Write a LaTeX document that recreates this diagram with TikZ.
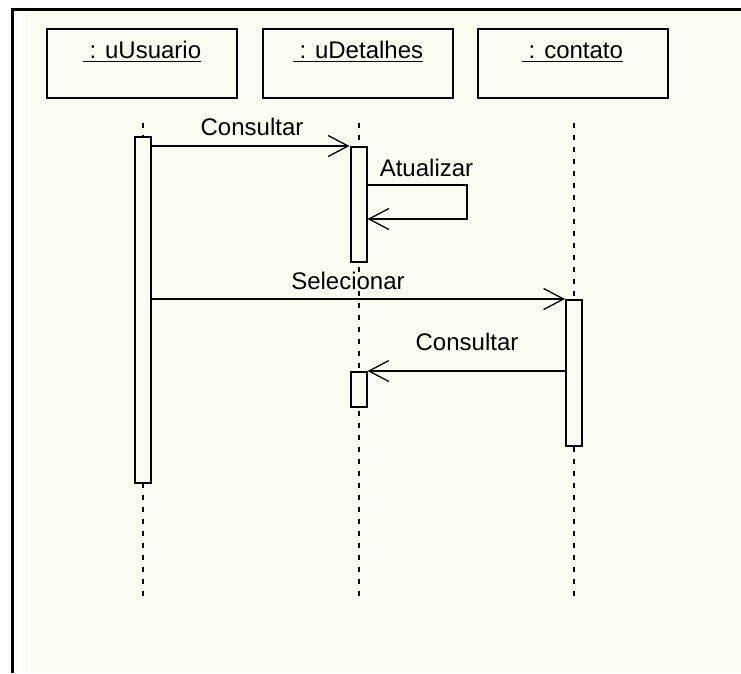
\documentclass[tikz,border=0pt]{standalone}
\usepackage{fontspec}
\setmainfont{Liberation Sans}
\usetikzlibrary{arrows.meta}
\definecolor{paper}{RGB}{252,252,242}
\begin{document}
\begin{tikzpicture}[x=1pt,y=-1pt,
  font=\fontsize{24}{28}\selectfont,
  objbox/.style={draw=black, line width=2pt, fill=paper, minimum width=190pt, minimum height=69pt, inner sep=0pt},
  objname/.style={inner sep=0pt, anchor=base},
  actbar/.style={draw=black, line width=2pt, fill=paper, minimum width=16pt, inner sep=0pt},
  lifeline/.style={line width=2pt, dash pattern=on 5pt off 7pt},
  msg/.style={line width=2pt, -{Straight Barb[length=20pt,width=21pt,line width=1.3pt]}},
  msglabel/.style={inner sep=0pt, anchor=base}
]
\useasboundingbox (0,0) rectangle (741,673);

% canvas and frame
\fill[white] (0,0) rectangle (741,673);
\fill[paper] (26,11) rectangle (741,673);
\fill[black] (11,8) rectangle (741,11);
\fill[black] (11,8) rectangle (13.5,673);

% object boxes
\node[objbox] (u) at (142,63.5) {};
\node[objbox] (d) at (358,63.5) {};
\node[objbox] (c) at (572.5,63.5) {};

\node[objname] (un) at (142,58) {~: uUsuario};
\node[objname] (dn) at (358,58) {~: uDetalhes};
\node[objname] (cn) at (572.5,58) {~: contato};
\foreach \n in {un,dn,cn}
  \draw[line width=1.8pt] ([yshift=-3.5pt]\n.base west) -- ([yshift=-3.5pt]\n.base east);

% message labels
\node[msglabel] (m1) at (252,135) {Consultar};
\node[msglabel] (m2) at (426.5,176) {Atualizar};
\node[msglabel] (m3) at (348,289) {Selecionar};
\node[msglabel] (m4) at (467,350) {Consultar};

% lifelines
\coordinate (ut) at (143,123);   \coordinate (ue) at (143,597);
\coordinate (dt) at (358.5,123); \coordinate (de) at (358.5,597);
\coordinate (ct) at (574,123);   \coordinate (ce) at (574,597);
\draw[lifeline] (ut) -- (ue);
\draw[lifeline] (dt) -- (de);
\draw[lifeline] (ct) -- (ce);

% activation bars
\node[actbar, minimum height=346pt] (ub) at (143,310) {};
\node[actbar, minimum height=115pt] (db1) at (358.5,204.5) {};
\node[actbar, minimum height=146pt] (cb) at (574,373) {};
\node[actbar, minimum height=35pt] (db2) at (358.5,389.5) {};

% messages
\draw[msg] (ub.east |- db1.north) -- (db1.north west);
\draw[msg] ([yshift=-39pt]db1.north east) -- ++(99,0) -- ++(0,34)
  -- ([yshift=-73pt]db1.north east);
\draw[msg] (ub.east |- cb.north) -- (cb.north west);
\draw[msg] (cb.west |- db2.north) -- (db2.north east);
\end{tikzpicture}
\end{document}
